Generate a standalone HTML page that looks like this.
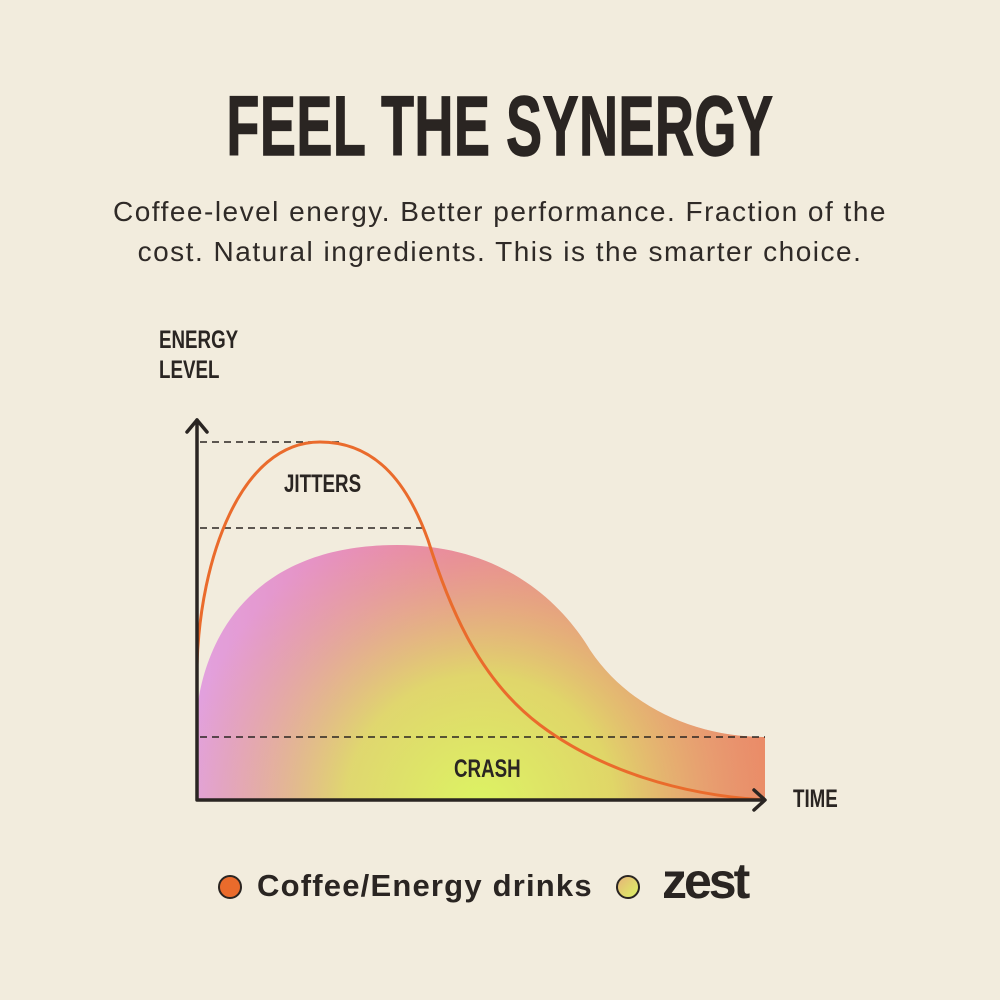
<!DOCTYPE html>
<html><head><meta charset="utf-8"><style>
html,body{margin:0;padding:0;}
body{width:1000px;height:1000px;background:#f2ecdd;position:relative;overflow:hidden;font-family:"Liberation Sans",sans-serif;color:#2a2522;}
.t{position:absolute;left:0;width:1000px;text-align:center;top:78px;font-size:84px;font-weight:bold;letter-spacing:1px;transform:scaleX(0.64);transform-origin:500px 0;-webkit-text-stroke:1.5px #2a2522;}
.s{position:absolute;left:0;width:1000px;text-align:center;top:192px;font-size:28px;letter-spacing:1.5px;line-height:40px;color:#2f2a27;}
.lab{position:absolute;font-weight:bold;transform:scaleX(0.75);transform-origin:0 0;font-size:25px;}
</style></head><body>
<div class="t">FEEL THE SYNERGY</div>
<div class="s">Coffee-level energy. Better performance. Fraction of the<br>cost. Natural ingredients. This is the smarter choice.</div>
<svg width="1000" height="1000" style="position:absolute;left:0;top:0">
<defs>
<linearGradient id="g1" x1="0" y1="0" x2="1" y2="0">
<stop offset="0" stop-color="#e2a2e0"/><stop offset="0.45" stop-color="#ea82a6"/><stop offset="1" stop-color="#ea8a66"/>
</linearGradient>
<radialGradient id="g2" cx="480" cy="810" r="300" gradientUnits="userSpaceOnUse">
<stop offset="0" stop-color="#dcf563" stop-opacity="1"/><stop offset="0.45" stop-color="#dee462" stop-opacity="0.85"/><stop offset="1" stop-color="#e6b070" stop-opacity="0"/>
</radialGradient>
<clipPath id="c"><path id="bl" d="M197 800 L197 710 C205 640 250 545 397 545 C500 545 560 600 590 650 C630 710 700 737 765 737 L765 800 Z"/></clipPath>
</defs>
<g clip-path="url(#c)">
<rect x="190" y="540" width="580" height="265" fill="url(#g1)"/>
<rect x="190" y="540" width="580" height="265" fill="url(#g2)"/>
</g>
<g stroke="#2a2522" stroke-width="1.5" stroke-dasharray="7,5" fill="none">
<line x1="200" y1="442" x2="340" y2="442"/>
<line x1="200" y1="528" x2="425" y2="528"/>
<line x1="200" y1="737" x2="765" y2="737"/>
</g>
<path d="M197 665 C200 560 240 442 320 442 C380 442 410 490 428 540 C450 610 480 680 540 725 C600 770 680 795 765 800" fill="none" stroke="#ea6b2c" stroke-width="3"/>
<g stroke="#2a2522" stroke-width="3.5" fill="none" stroke-linecap="round" stroke-linejoin="round">
<path d="M197 420 L197 800 L764 800"/>
<path d="M187 432 L197 420 L207 432"/>
<path d="M754 790 L765 800 L754 810"/>
</g>
<circle cx="230" cy="887" r="11" fill="#ea6b2c" stroke="#2a2522" stroke-width="2"/>
<defs><linearGradient id="lg" x1="0" y1="0" x2="1" y2="1"><stop offset="0" stop-color="#e7b27a"/><stop offset="1" stop-color="#dcf563"/></linearGradient></defs>
<circle cx="628" cy="887" r="11" fill="url(#lg)" stroke="#2a2522" stroke-width="2"/>
</svg>
<div class="lab" style="left:159px;top:325px;line-height:30px">ENERGY<br>LEVEL</div>
<div class="lab" style="left:284px;top:470px">JITTERS</div>
<div class="lab" style="left:454px;top:755px">CRASH</div>
<div class="lab" style="left:793px;top:785px">TIME</div>
<div style="position:absolute;left:257px;top:868px;font-size:31px;letter-spacing:1.2px;font-weight:bold;">Coffee/Energy drinks</div>
<div style="position:absolute;left:662px;top:852px;font-size:50px;font-weight:bold;letter-spacing:-3px;">zest</div>
</body></html>
